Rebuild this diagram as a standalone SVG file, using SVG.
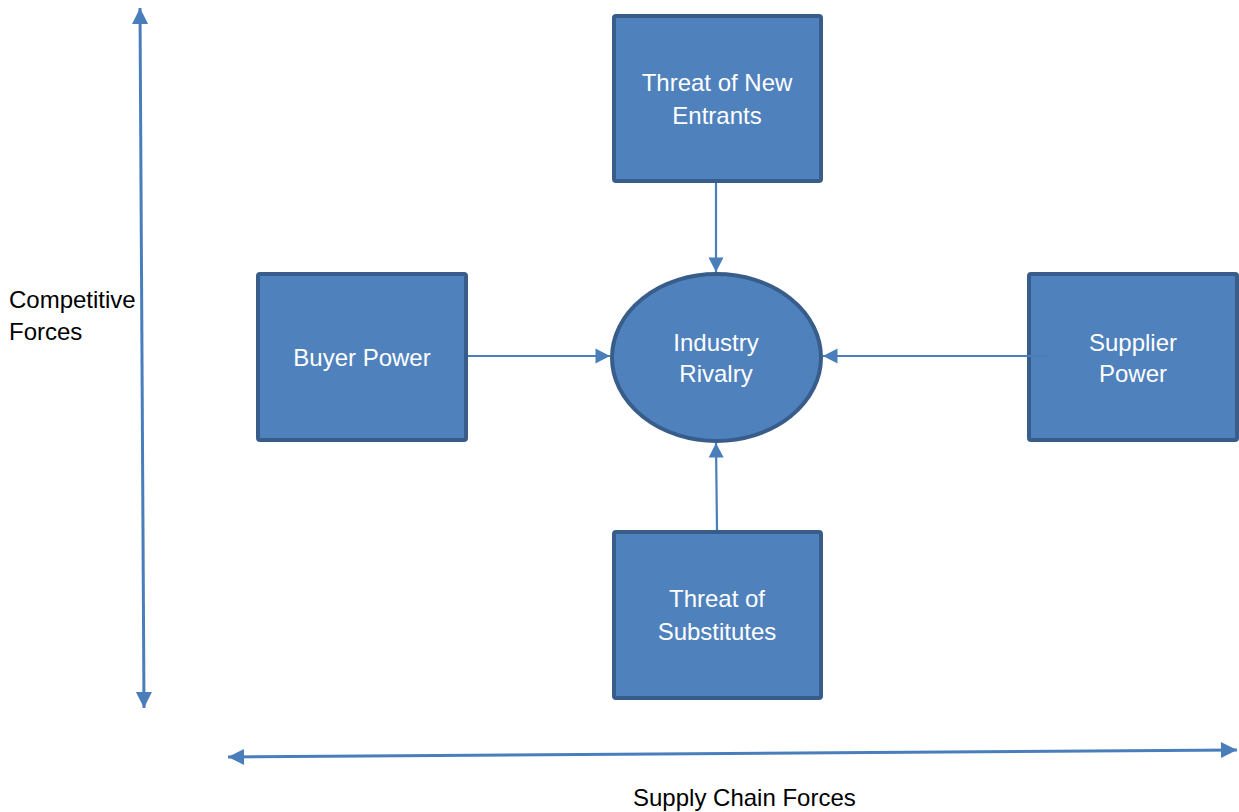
<svg xmlns="http://www.w3.org/2000/svg" width="1239" height="812" viewBox="0 0 1239 812">
  <style>
    .box { fill: #4f81bd; stroke: #385d8a; stroke-width: 4; }
    .label { fill: #ffffff; font-family: "Liberation Sans", Arial, sans-serif; font-size: 24px; text-anchor: middle; }
    .axis-label { fill: #000000; font-family: "Liberation Sans", Arial, sans-serif; font-size: 24px; }
    .conn { stroke: #4a7ebb; stroke-width: 2.2; fill: none; marker-end: url(#head); }
    .axis { stroke: #4a7ebb; stroke-width: 3; fill: none; marker-start: url(#axisHead); marker-end: url(#axisHead); }
  </style>
  <defs>
    <marker id="head" markerUnits="userSpaceOnUse" markerWidth="16" markerHeight="16" viewBox="0 0 16 16" refX="15" refY="8" orient="auto-start-reverse">
      <path d="M0.5,0.5 L15,8 L0.5,15.5 Z" fill="#4a7ebb"/>
    </marker>
    <marker id="axisHead" markerUnits="userSpaceOnUse" markerWidth="18" markerHeight="18" viewBox="0 0 18 18" refX="17" refY="9" orient="auto-start-reverse">
      <path d="M1,1 L17,9 L1,17 Z" fill="#4a7ebb"/>
    </marker>
  </defs>

  <rect width="1239" height="812" fill="#ffffff"/>

  <!-- axes -->
  <g id="axes">
    <line class="axis" x1="144" y1="708" x2="140" y2="8"/>
    <line class="axis" x1="228" y1="757" x2="1237" y2="750"/>
    <text class="axis-label" x="9" y="308">Competitive</text>
    <text class="axis-label" x="9" y="340">Forces</text>
    <text class="axis-label" x="633" y="806">Supply Chain Forces</text>
  </g>

  <g id="new-entrants">
    <rect class="box" x="614" y="16" width="207" height="165" rx="2"/>
    <text class="label" x="717" y="91">Threat of New</text>
    <text class="label" x="717" y="124">Entrants</text>
  </g>

  <g id="buyer-power">
    <rect class="box" x="258" y="274" width="208" height="166" rx="2"/>
    <text class="label" x="362" y="366">Buyer Power</text>
  </g>

  <g id="industry-rivalry">
    <ellipse class="box" cx="716.5" cy="357.5" rx="104.5" ry="83.5"/>
    <text class="label" x="716" y="351">Industry</text>
    <text class="label" x="716" y="382">Rivalry</text>
  </g>

  <g id="supplier-power">
    <rect class="box" x="1029" y="274" width="208" height="166" rx="2"/>
    <text class="label" x="1133" y="351">Supplier</text>
    <text class="label" x="1133" y="382">Power</text>
  </g>

  <g id="substitutes">
    <rect class="box" x="614" y="532" width="207" height="166" rx="2"/>
    <text class="label" x="717" y="607">Threat of</text>
    <text class="label" x="717" y="640">Substitutes</text>
  </g>

  <!-- connectors, drawn over the node outlines -->
  <g id="connectors">
    <line class="conn" x1="716" y1="183" x2="716" y2="272"/>
    <line class="conn" x1="468" y1="356" x2="610" y2="356"/>
    <line class="conn" x1="1047" y1="356" x2="823" y2="356"/>
    <line class="conn" x1="717" y1="530" x2="716" y2="443"/>
  </g>
</svg>
